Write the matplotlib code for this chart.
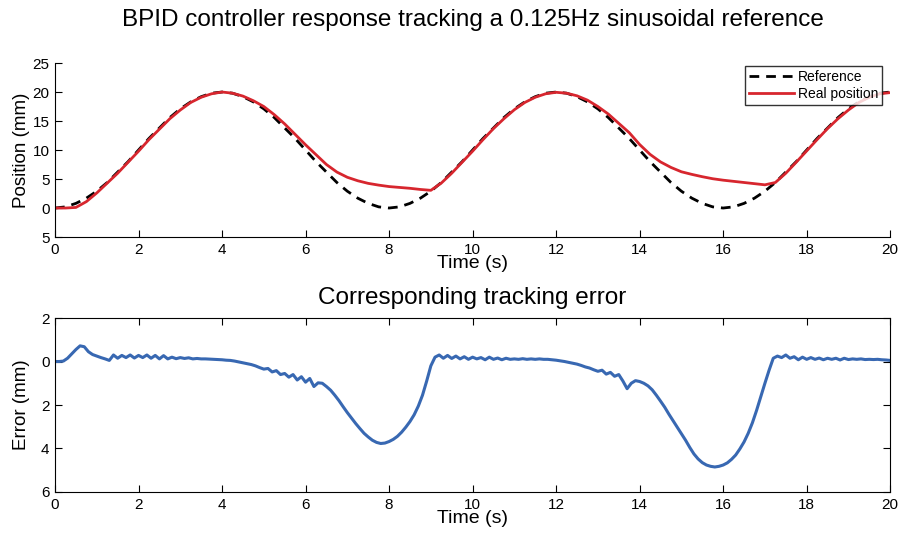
import numpy as np
import matplotlib.pyplot as plt

plt.rcParams['font.family'] = ['Liberation Sans', 'DejaVu Sans']

# temps (pas 0.25 s pour les positions, 0.1 s pour l'erreur)
t_pos = np.arange(0, 20.01, 0.25)
t_err = np.arange(0, 20.001, 0.1)

reference = [0, 0.2, 0.8, 1.7, 2.9, 4.4, 6.2, 8.0, 10, 12.0, 13.8, 15.6, 17.1, 18.3, 19.2, 19.8,
             20, 19.8, 19.2, 18.3, 17.1, 15.6, 13.8, 12.0, 10, 8.0, 6.2, 4.4, 2.9, 1.7, 0.8, 0.2,
             0, 0.2, 0.8, 1.7, 2.9, 4.4, 6.2, 8.0, 10, 12.0, 13.8, 15.6, 17.1, 18.3, 19.2, 19.8,
             20, 19.8, 19.2, 18.3, 17.1, 15.6, 13.8, 12.0, 10, 8.0, 6.2, 4.4, 2.9, 1.7, 0.8, 0.2,
             0, 0.2, 0.8, 1.7, 2.9, 4.4, 6.2, 8.0, 10, 12.0, 13.8, 15.6, 17.1, 18.3, 19.2, 19.8, 20]

real_pos = [0, 0, 0.1, 1.1, 2.6, 4.3, 6.0, 7.9, 9.8, 11.8, 13.6, 15.4, 16.9, 18.2, 19.1, 19.7,
            20.0, 19.8, 19.3, 18.5, 17.5, 16.1, 14.5, 12.7, 10.9, 9.2, 7.5, 6.2, 5.3, 4.7, 4.25, 3.95,
            3.7, 3.55, 3.4, 3.2, 3.05, 4.3, 6.0, 7.9, 9.8, 11.8, 13.7, 15.4, 16.95, 18.2, 19.1, 19.7,
            19.95, 19.8, 19.35, 18.6, 17.5, 16.2, 14.6, 13.0, 10.95, 9.25, 7.95, 7.0, 6.25, 5.8, 5.4, 5.05,
            4.8, 4.6, 4.4, 4.2, 4.0, 4.4, 6.0, 7.9, 9.85, 11.8, 13.7, 15.4, 16.9, 18.2, 19.1, 19.7, 19.9]

error = [0.0, 0.0, 0.02, 0.15, 0.35, 0.55, 0.72, 0.68, 0.45, 0.32,
         0.25, 0.18, 0.12, 0.05, 0.3, 0.15, 0.28, 0.18, 0.3, 0.16,
         0.28, 0.18, 0.3, 0.15, 0.28, 0.12, 0.27, 0.12, 0.2, 0.13,
         0.18, 0.14, 0.17, 0.12, 0.14, 0.12, 0.12, 0.11, 0.1, 0.09,
         0.08, 0.06, 0.05, 0.02, -0.02, -0.06, -0.1, -0.14, -0.2, -0.28,
         -0.35, -0.32, -0.48, -0.42, -0.6, -0.55, -0.72, -0.6, -0.85, -0.7,
         -0.95, -0.78, -1.15, -0.98, -1.0, -1.15, -1.32, -1.55, -1.8, -2.08,
         -2.35, -2.6, -2.85, -3.08, -3.3, -3.47, -3.62, -3.72, -3.77, -3.75,
         -3.68, -3.58, -3.44, -3.25, -3.02, -2.76, -2.45, -2.05, -1.55, -0.9,
         -0.2, 0.2, 0.3, 0.15, 0.28, 0.14, 0.25, 0.12, 0.22, 0.1,
         0.2, 0.12, 0.18, 0.08, 0.2, 0.1, 0.16, 0.08, 0.15, 0.1,
         0.12, 0.1, 0.13, 0.1, 0.12, 0.1, 0.12, 0.1, 0.1, 0.08,
         0.06, 0.03, 0.0, -0.04, -0.08, -0.12, -0.18, -0.25, -0.3, -0.38,
         -0.45, -0.4, -0.58, -0.5, -0.68, -0.6, -0.9, -1.25, -1.0, -0.88,
         -0.92, -1.0, -1.12, -1.3, -1.55, -1.82, -2.1, -2.42, -2.72, -3.02,
         -3.32, -3.62, -3.95, -4.25, -4.48, -4.65, -4.76, -4.82, -4.85, -4.82,
         -4.76, -4.66, -4.5, -4.3, -4.02, -3.7, -3.3, -2.82, -2.25, -1.62,
         -1.0, -0.4, 0.15, 0.25, 0.18, 0.3, 0.15, 0.22, 0.08, 0.2,
         0.1, 0.18, 0.1, 0.16, 0.08, 0.15, 0.1, 0.15, 0.07, 0.15,
         0.09, 0.12, 0.1, 0.12, 0.09, 0.1, 0.09, 0.1, 0.08, 0.07, 0.05]

pos_ticks = [-5, 0, 5, 10, 15, 20, 25]
err_ticks = [-6, -4, -2, 0, 2]
x_ticks = [0, 2, 4, 6, 8, 10, 12, 14, 16, 18, 20]

fig = plt.figure(figsize=(8.99, 5.36), dpi=100)

# Position
ax1 = fig.add_axes([0.0612, 0.5578, 0.929, 0.3246])
ax1.plot(t_pos, reference, '--', color='black', lw=2, dashes=(3.5, 2.5), label='Reference')
ax1.plot(t_pos, real_pos, '-', color='#d7262e', lw=2, label='Real position')
ax1.set_xlim(0, 20)
ax1.set_ylim(-5, 25)
ax1.set_xticks(x_ticks)
ax1.set_yticks(pos_ticks)
ax1.set_yticklabels([str(abs(v)) for v in pos_ticks])
ax1.spines['top'].set_visible(False)
ax1.spines['right'].set_visible(False)
ax1.tick_params(direction='in', length=5, labelsize=11, pad=4)
ax1.set_xlabel('Time (s)', fontsize=14, labelpad=-1)
ax1.set_ylabel('Position (mm)', fontsize=13.5, labelpad=2)
ax1.set_title('BPID controller response tracking a 0.125Hz sinusoidal reference', fontsize=17.5, pad=27)
leg = ax1.legend(loc='upper right', bbox_to_anchor=(0.994, 1.0), fontsize=10, frameon=True,
                 fancybox=False, edgecolor='black', borderpad=0.3, labelspacing=0.2,
                 handlelength=3.2, handletextpad=0.3, borderaxespad=0.2)
leg.get_frame().set_linewidth(1.0)

# Erreur
ax2 = fig.add_axes([0.0612, 0.0821, 0.929, 0.3246])
ax2.plot(t_err, error, '-', color='#3868b2', lw=2.2)
ax2.set_xlim(0, 20)
ax2.set_ylim(-6, 2)
ax2.set_xticks(x_ticks)
ax2.set_yticks(err_ticks)
ax2.set_yticklabels([str(abs(v)) for v in err_ticks])
ax2.tick_params(direction='in', length=5, labelsize=11, pad=4, top=True, right=True)
ax2.set_xlabel('Time (s)', fontsize=14, labelpad=-1)
ax2.set_ylabel('Error (mm)', fontsize=13.5, labelpad=8)
ax2.set_title('Corresponding tracking error', fontsize=17.5, pad=10)

fig.savefig('out.png', dpi=100)
